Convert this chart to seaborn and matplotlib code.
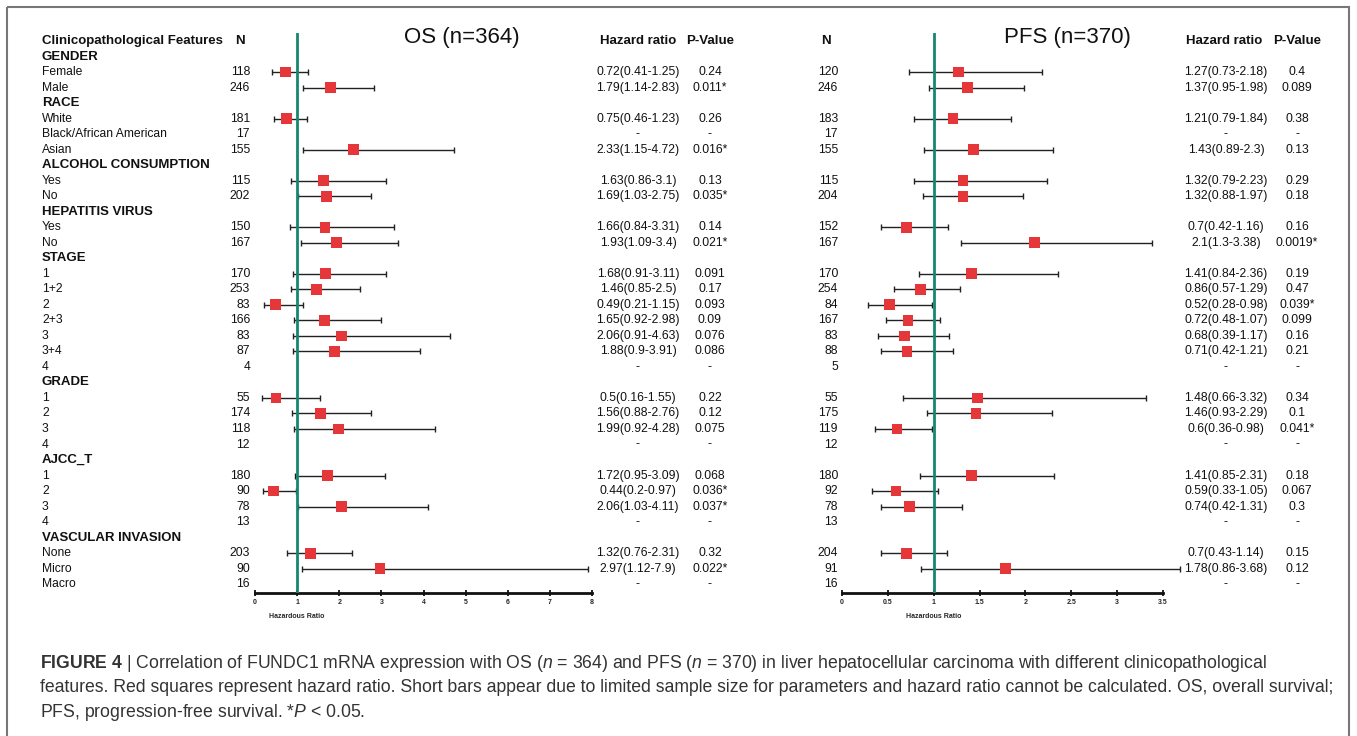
import numpy as np
import pandas as pd
import matplotlib.pyplot as plt
import seaborn as sns
from matplotlib.patches import Rectangle

# ---- data -------------------------------------------------------------
row_labels = ["GENDER", "Female", "Male",
              "RACE", "White", "Black/African American", "Asian",
              "ALCOHOL CONSUMPTION", "Yes", "No",
              "HEPATITIS VIRUS", "Yes", "No",
              "STAGE", "1", "1+2", "2", "2+3", "3", "3+4", "4",
              "GRADE", "1", "2", "3", "4",
              "AJCC_T", "1", "2", "3", "4",
              "VASCULAR INVASION", "None", "Micro", "Macro"]
is_group = [True, False, False,
            True, False, False, False,
            True, False, False,
            True, False, False,
            True, False, False, False, False, False, False, False,
            True, False, False, False, False,
            True, False, False, False, False,
            True, False, False, False]

N = None
os_n = [N, 118, 246, N, 181, 17, 155, N, 115, 202, N, 150, 167,
        N, 170, 253, 83, 166, 83, 87, 4, N, 55, 174, 118, 12,
        N, 180, 90, 78, 13, N, 203, 90, 16]
os_hr = [N, 0.72, 1.79, N, 0.75, N, 2.33, N, 1.63, 1.69, N, 1.66, 1.93,
         N, 1.68, 1.46, 0.49, 1.65, 2.06, 1.88, N, N, 0.5, 1.56, 1.99, N,
         N, 1.72, 0.44, 2.06, N, N, 1.32, 2.97, N]
os_lo = [N, 0.41, 1.14, N, 0.46, N, 1.15, N, 0.86, 1.03, N, 0.84, 1.09,
         N, 0.91, 0.85, 0.21, 0.92, 0.91, 0.9, N, N, 0.16, 0.88, 0.92, N,
         N, 0.95, 0.2, 1.03, N, N, 0.76, 1.12, N]
os_hi = [N, 1.25, 2.83, N, 1.23, N, 4.72, N, 3.1, 2.75, N, 3.31, 3.4,
         N, 3.11, 2.5, 1.15, 2.98, 4.63, 3.91, N, N, 1.55, 2.76, 4.28, N,
         N, 3.09, 0.97, 4.11, N, N, 2.31, 7.9, N]
os_p = [N, "0.24", "0.011*", N, "0.26", "-", "0.016*", N, "0.13", "0.035*",
        N, "0.14", "0.021*", N, "0.091", "0.17", "0.093", "0.09", "0.076",
        "0.086", "-", N, "0.22", "0.12", "0.075", "-", N, "0.068", "0.036*",
        "0.037*", "-", N, "0.32", "0.022*", "-"]

pfs_n = [N, 120, 246, N, 183, 17, 155, N, 115, 204, N, 152, 167,
         N, 170, 254, 84, 167, 83, 88, 5, N, 55, 175, 119, 12,
         N, 180, 92, 78, 13, N, 204, 91, 16]
pfs_hr = [N, 1.27, 1.37, N, 1.21, N, 1.43, N, 1.32, 1.32, N, 0.7, 2.1,
          N, 1.41, 0.86, 0.52, 0.72, 0.68, 0.71, N, N, 1.48, 1.46, 0.6, N,
          N, 1.41, 0.59, 0.74, N, N, 0.7, 1.78, N]
pfs_lo = [N, 0.73, 0.95, N, 0.79, N, 0.89, N, 0.79, 0.88, N, 0.42, 1.3,
          N, 0.84, 0.57, 0.28, 0.48, 0.39, 0.42, N, N, 0.66, 0.93, 0.36, N,
          N, 0.85, 0.33, 0.42, N, N, 0.43, 0.86, N]
pfs_hi = [N, 2.18, 1.98, N, 1.84, N, 2.3, N, 2.23, 1.97, N, 1.16, 3.38,
          N, 2.36, 1.29, 0.98, 1.07, 1.17, 1.21, N, N, 3.32, 2.29, 0.98, N,
          N, 2.31, 1.05, 1.31, N, N, 1.14, 3.68, N]
pfs_p = [N, "0.4", "0.089", N, "0.38", "-", "0.13", N, "0.29", "0.18",
         N, "0.16", "0.0019*", N, "0.19", "0.47", "0.039*", "0.099", "0.16",
         "0.21", "-", N, "0.34", "0.1", "0.041*", "-", N, "0.18", "0.067",
         "0.3", "-", N, "0.15", "0.12", "-"]

os_ticks = [0, 1, 2, 3, 4, 5, 6, 7, 8]
pfs_ticks = [0, 0.5, 1, 1.5, 2, 2.5, 3, 3.5]

caption = [
    r"$\bf{FIGURE\ 4}$ | Correlation of FUNDC1 mRNA expression with OS ($n$ = 364) and PFS ($n$ = 370) in liver hepatocellular carcinoma with different clinicopathological",
    "features. Red squares represent hazard ratio. Short bars appear due to limited sample size for parameters and hazard ratio cannot be calculated. OS, overall survival;",
    r"PFS, progression-free survival. *$P$ < 0.05.",
]

# ---- style ------------------------------------------------------------
sns.set_theme(style="white")
plt.rcParams["font.family"] = ["Liberation Sans", "DejaVu Sans"]
plt.rcParams["mathtext.fontset"] = "custom"
plt.rcParams["mathtext.rm"] = "Liberation Sans"
plt.rcParams["mathtext.it"] = "Liberation Sans:italic"
plt.rcParams["mathtext.bf"] = "Liberation Sans:bold"

W, H = 1357, 736
Y0, DY = 41, 15.52          # pixel y of header row and row spacing
RED = "#e5373a"
GREEN = "#17866f"

fig = plt.figure(figsize=(W / 100, H / 100), dpi=100)
bg = fig.add_axes([0, 0, 1, 1])
bg.set_xlim(0, W)
bg.set_ylim(H, 0)
bg.axis("off")


def ry(i):
    return Y0 + DY * i


def fmt_hr(hr, lo, hi):
    if hr is None:
        return "-"
    return f"{hr:g}({lo:g}-{hi:g})"


# ---- text columns -------------------------------------------------------
hdr = dict(fontsize=9.5, fontweight="bold", va="center", color="#111111")
bg.text(42, ry(0), "Clinicopathological Features", ha="left", **hdr)
bg.text(235, ry(0), "N", ha="left", **hdr)
bg.text(638, ry(0), "Hazard ratio", ha="center", **hdr)
bg.text(710, ry(0), "P-Value", ha="center", **hdr)
bg.text(821, ry(0), "N", ha="left", **hdr)
bg.text(1224, ry(0), "Hazard ratio", ha="center", **hdr)
bg.text(1297, ry(0), "P-Value", ha="center", **hdr)
bg.text(462, 37, "OS (n=364)", ha="center", va="center", fontsize=16,
        color="#111111")
bg.text(1067, 37, "PFS (n=370)", ha="center", va="center", fontsize=16,
        color="#111111")

item = dict(fontsize=8.7, va="center", color="#111111")
for k, lab in enumerate(row_labels):
    i = k + 1
    y = ry(i)
    if is_group[k]:
        bg.text(42, y, lab, ha="left", **hdr)
        continue
    bg.text(42, y, lab, ha="left", **item)
    bg.text(250, y, str(os_n[k]), ha="right", **item)
    bg.text(638, y, fmt_hr(os_hr[k], os_lo[k], os_hi[k]), ha="center", **item)
    bg.text(710, y, os_p[k], ha="center", **item)
    bg.text(838, y, str(pfs_n[k]), ha="right", **item)
    bg.text(1226, y, fmt_hr(pfs_hr[k], pfs_lo[k], pfs_hi[k]), ha="center", **item)
    bg.text(1297, y, pfs_p[k], ha="center", **item)

# ---- forest panels --------------------------------------------------------
rows = np.arange(1, len(row_labels) + 1)
top_px, bot_px = 33, 593


def forest(x0_px, x1_px, xmax, ticks, hr, lo, hi):
    ax = fig.add_axes([x0_px / W, 1 - bot_px / H,
                       (x1_px - x0_px) / W, (bot_px - top_px) / H])
    ax.patch.set_alpha(0)
    df = pd.DataFrame({"row": rows, "hr": hr, "lo": lo, "hi": hi}).dropna()
    df = df.astype(float)
    ax.errorbar(df["hr"], df["row"],
                xerr=[df["hr"] - df["lo"], df["hi"] - df["hr"]],
                fmt="none", ecolor="#222222", elinewidth=1.0,
                capsize=2.5, capthick=1.0, clip_on=False, zorder=2)
    ax.axvline(1, color=GREEN, lw=2, zorder=3)
    sns.scatterplot(data=df, x="hr", y="row", marker="s", s=60,
                    color=RED, edgecolor="none", ax=ax, zorder=4,
                    clip_on=False)
    ax.set_xlim(0, xmax)
    ax.set_ylim((bot_px - Y0) / DY, (top_px - Y0) / DY)
    for s in ["top", "right", "left"]:
        ax.spines[s].set_visible(False)
    ax.spines["bottom"].set_linewidth(2)
    ax.spines["bottom"].set_color("#111111")
    ax.set_yticks([])
    ax.set_xticks(ticks)
    ax.set_xticklabels([f"{t:g}" for t in ticks], fontsize=5,
                       fontweight="bold")
    ax.tick_params(axis="x", direction="inout", length=5, width=1.3,
                   color="#111111", pad=2, bottom=True)
    ax.set_xlabel("")
    ax.set_ylabel("")
    ax.text(1, -0.035, "Hazardous Ratio", transform=ax.get_xaxis_transform(),
            ha="center", va="top", fontsize=5, fontweight="bold")
    return ax


forest(255, 592, 8, os_ticks, os_hr, os_lo, os_hi)
forest(842, 1163, 3.5, pfs_ticks, pfs_hr, pfs_lo, pfs_hi)

# ---- frame and caption ----------------------------------------------------
bg.add_patch(Rectangle((7, 7), 1342, 760, fill=False, edgecolor="#777777",
                       lw=1.5, clip_on=False))
for j, line in enumerate(caption):
    bg.text(40, 668 + 24.5 * j, line, ha="left", va="baseline",
            fontsize=12.7, color="#333333")

fig.savefig("out.png", dpi=100)
